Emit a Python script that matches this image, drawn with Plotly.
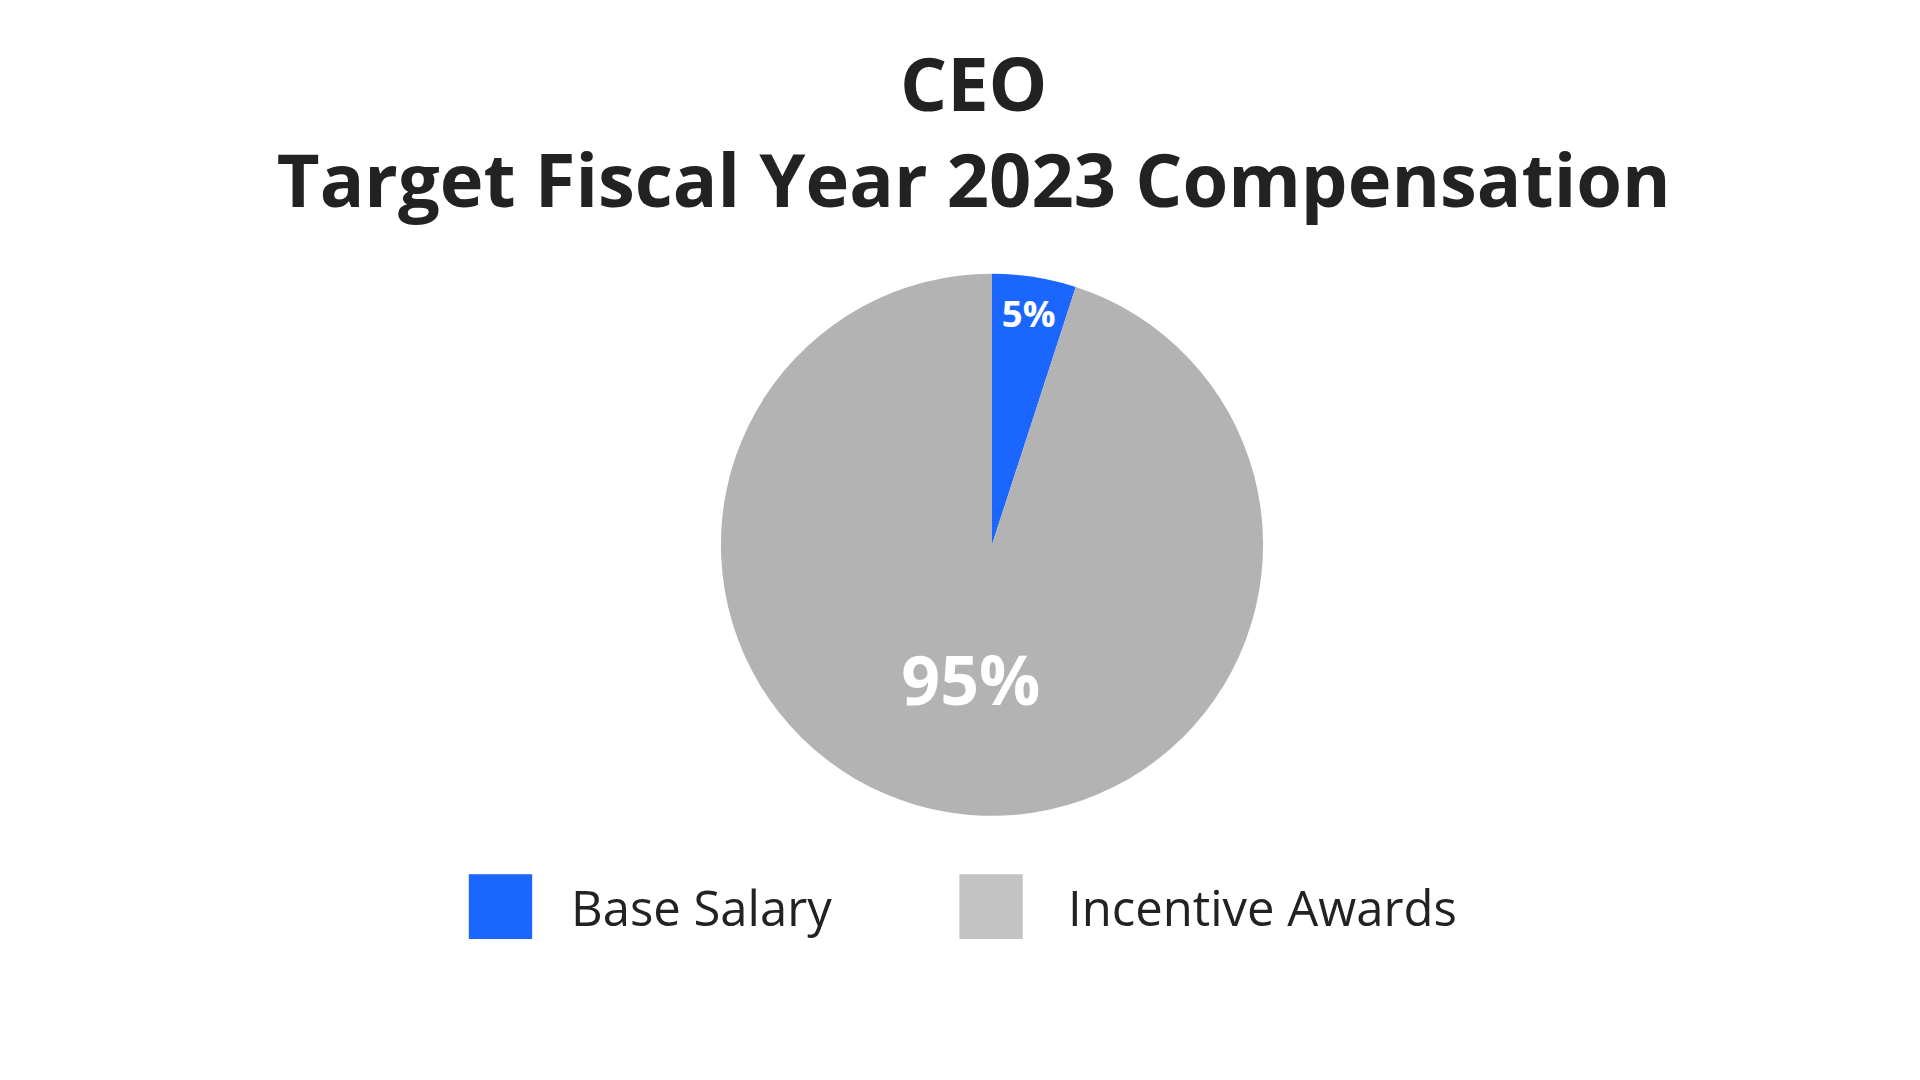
import plotly.graph_objects as go

labels = ["Base Salary", "Incentive Awards"]
values = [5, 95]
colors = ["#1a66ff", "#b3b3b3"]
legend_colors = ["#1a66ff", "#c3c3c3"]
title_lines = ["CEO", "Target Fiscal Year 2023 Compensation"]

FONT = "Open Sans"

fig = go.Figure()
fig.add_trace(go.Pie(
    labels=labels,
    values=values,
    sort=False,
    direction="counterclockwise",
    rotation=0,
    marker=dict(colors=colors, line=dict(width=0)),
    texttemplate="%{value}%",
    textposition="inside",
    insidetextorientation="horizontal",
    textfont=dict(family=FONT, size=68, color="white", weight="bold"),
    domain=dict(x=[0.35, 0.675], y=[0.252, 0.754]),
    showlegend=False,
    hoverinfo="label+percent",
))

# legend built from shapes/annotations to get the large swatches
legend_x = [0.240, 0.4955]
text_x = [0.292, 0.551]
for lab, col, x0, tx in zip(labels, legend_colors, legend_x, text_x):
    fig.add_shape(type="rect", xref="paper", yref="paper",
                  x0=x0, x1=x0 + 0.033, y0=0.138, y1=0.198,
                  fillcolor=col, line=dict(width=0))
    fig.add_annotation(text=lab, xref="paper", yref="paper",
                       x=tx, y=0.168, xanchor="left", yanchor="middle",
                       showarrow=False,
                       font=dict(family=FONT, size=49, color="#222222"))

fig.update_layout(
    width=1920, height=1080,
    paper_bgcolor="white", plot_bgcolor="white",
    margin=dict(l=0, r=0, t=0, b=0),
    title=dict(text="<br>".join(title_lines), x=0.503, xanchor="center",
               y=0.905, yanchor="top",
               font=dict(family=FONT, size=74, color="#222222", weight="bold")),
)

fig.write_html("out.html")
